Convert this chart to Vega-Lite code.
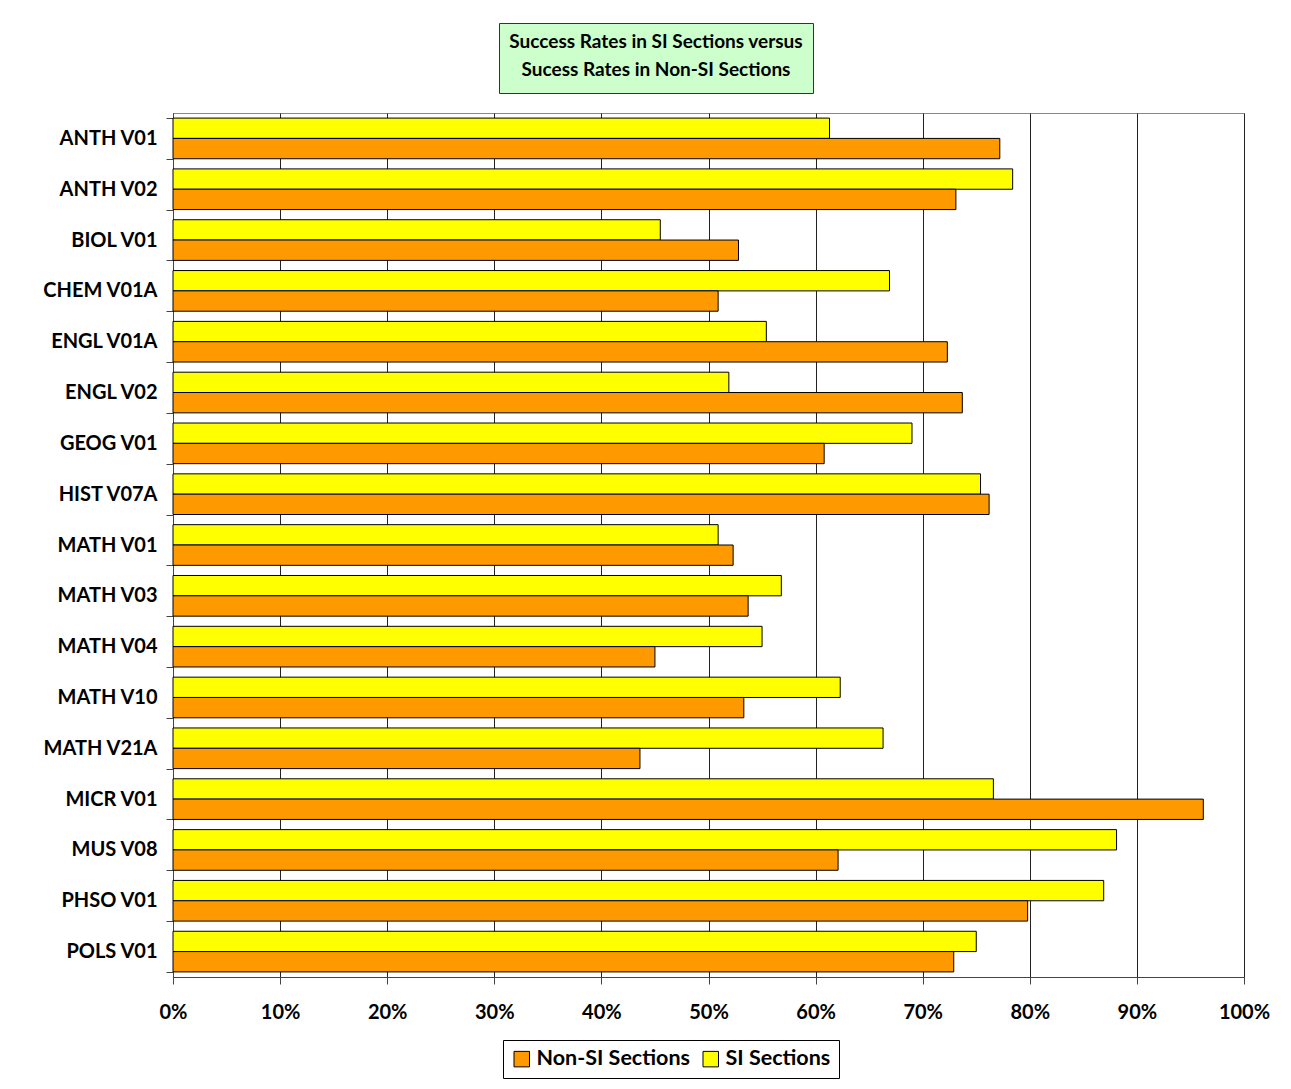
{
  "$schema": "https://vega.github.io/schema/vega-lite/v6.json",
  "width": 1071,
  "height": 864,
  "autosize": {"type": "none"},
  "padding": {"left": 173, "top": 113, "right": 47, "bottom": 112},
  "background": "white",
  "data": {
    "values": [
      {"course": "ANTH V01", "group": "SI Sections", "rate": 0.613},
      {"course": "ANTH V01", "group": "Non-SI Sections", "rate": 0.772},
      {"course": "ANTH V02", "group": "SI Sections", "rate": 0.784},
      {"course": "ANTH V02", "group": "Non-SI Sections", "rate": 0.731},
      {"course": "BIOL V01", "group": "SI Sections", "rate": 0.455},
      {"course": "BIOL V01", "group": "Non-SI Sections", "rate": 0.528},
      {"course": "CHEM V01A", "group": "SI Sections", "rate": 0.669},
      {"course": "CHEM V01A", "group": "Non-SI Sections", "rate": 0.509},
      {"course": "ENGL V01A", "group": "SI Sections", "rate": 0.554},
      {"course": "ENGL V01A", "group": "Non-SI Sections", "rate": 0.723},
      {"course": "ENGL V02", "group": "SI Sections", "rate": 0.519},
      {"course": "ENGL V02", "group": "Non-SI Sections", "rate": 0.737},
      {"course": "GEOG V01", "group": "SI Sections", "rate": 0.690},
      {"course": "GEOG V01", "group": "Non-SI Sections", "rate": 0.608},
      {"course": "HIST V07A", "group": "SI Sections", "rate": 0.754},
      {"course": "HIST V07A", "group": "Non-SI Sections", "rate": 0.762},
      {"course": "MATH V01", "group": "SI Sections", "rate": 0.509},
      {"course": "MATH V01", "group": "Non-SI Sections", "rate": 0.523},
      {"course": "MATH V03", "group": "SI Sections", "rate": 0.568},
      {"course": "MATH V03", "group": "Non-SI Sections", "rate": 0.537},
      {"course": "MATH V04", "group": "SI Sections", "rate": 0.550},
      {"course": "MATH V04", "group": "Non-SI Sections", "rate": 0.450},
      {"course": "MATH V10", "group": "SI Sections", "rate": 0.623},
      {"course": "MATH V10", "group": "Non-SI Sections", "rate": 0.533},
      {"course": "MATH V21A", "group": "SI Sections", "rate": 0.663},
      {"course": "MATH V21A", "group": "Non-SI Sections", "rate": 0.436},
      {"course": "MICR V01", "group": "SI Sections", "rate": 0.766},
      {"course": "MICR V01", "group": "Non-SI Sections", "rate": 0.962},
      {"course": "MUS V08", "group": "SI Sections", "rate": 0.881},
      {"course": "MUS V08", "group": "Non-SI Sections", "rate": 0.621},
      {"course": "PHSO V01", "group": "SI Sections", "rate": 0.869},
      {"course": "PHSO V01", "group": "Non-SI Sections", "rate": 0.798},
      {"course": "POLS V01", "group": "SI Sections", "rate": 0.750},
      {"course": "POLS V01", "group": "Non-SI Sections", "rate": 0.729}
    ]
  },
  "mark": {"type": "bar", "stroke": "black", "strokeWidth": 1},
  "encoding": {
    "y": {
      "field": "course",
      "type": "nominal",
      "sort": null,
      "title": null,
      "scale": {"paddingInner": 0.2, "paddingOuter": 0.1},
      "axis": {
        "tickBand": "extent",
        "labelFont": "Lato",
        "labelFontSize": 20,
        "labelFontWeight": "bold",
        "labelColor": "black",
        "labelPadding": 9,
        "tickSize": 7,
        "tickColor": "#444",
        "domainColor": "#444"
      }
    },
    "yOffset": {
      "field": "group",
      "type": "nominal",
      "sort": ["SI Sections", "Non-SI Sections"]
    },
    "x": {
      "field": "rate",
      "type": "quantitative",
      "title": null,
      "scale": {"domain": [0, 1], "nice": false},
      "axis": {
        "format": "%",
        "values": [0, 0.1, 0.2, 0.3, 0.4, 0.5, 0.6, 0.7, 0.8, 0.9, 1],
        "grid": true,
        "gridColor": "#222",
        "gridWidth": 1,
        "labelFlush": false,
        "labelFont": "Lato",
        "labelFontSize": 20,
        "labelFontWeight": "bold",
        "labelColor": "black",
        "labelPadding": 18,
        "tickSize": 7,
        "tickColor": "#444",
        "domainColor": "#444"
      }
    },
    "color": {
      "field": "group",
      "type": "nominal",
      "scale": {"domain": ["Non-SI Sections", "SI Sections"], "range": ["#FF9900", "#FFFF00"]},
      "legend": {
        "title": null,
        "orient": "none",
        "legendX": 330,
        "legendY": 927,
        "direction": "horizontal",
        "symbolType": "square",
        "symbolSize": 240,
        "symbolStrokeColor": "black",
        "symbolStrokeWidth": 1,
        "labelFont": "Lato",
        "labelFontSize": 21.5,
        "labelFontWeight": "bold",
        "labelColor": "black",
        "columnPadding": 10,
        "fillColor": "white",
        "strokeColor": "black",
        "padding": 8
      }
    },
    "opacity": {
      "datum": " ",
      "type": "nominal",
      "scale": {"range": [1]},
      "legend": {
        "title": ["Success Rates in SI Sections versus", "Sucess Rates in Non-SI Sections"],
        "orient": "none",
        "legendX": 326,
        "legendY": -90,
        "titleFont": "Lato",
        "titleFontSize": 19,
        "titleFontWeight": "bold",
        "titleColor": "black",
        "titleLineHeight": 28,
        "titleLimit": 500,
        "titleAlign": "center",
        "titleAnchor": "middle",
        "titlePadding": 2,
        "symbolSize": 1,
        "symbolFillColor": "transparent",
        "symbolStrokeColor": "transparent",
        "symbolStrokeWidth": 0,
        "labelFontSize": 1,
        "labelColor": "transparent",
        "fillColor": "#CCFFCC",
        "strokeColor": "#333",
        "padding": 10
      }
    }
  },
  "config": {
    "view": {"stroke": "#888"}
  }
}
